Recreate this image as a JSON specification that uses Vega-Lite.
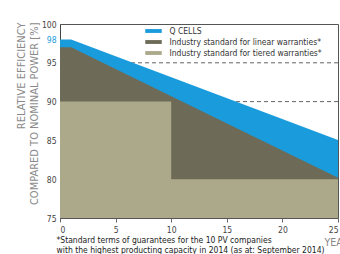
{
  "$schema": "https://vega.github.io/schema/vega-lite/v6.json",
  "width": 278,
  "height": 194,
  "autosize": {"type": "none"},
  "padding": {"left": 60, "top": 24, "right": 2, "bottom": 36},
  "background": "white",
  "config": {
    "font": "Liberation Sans Narrow, DejaVu Sans Condensed, Liberation Sans, sans-serif",
    "view": {"stroke": "#555", "strokeWidth": 1},
    "axisY": {"labelOverlap": false, "labelFlush": false, "labelBound": false}
  },
  "title": {
    "text": "YEARS",
    "orient": "bottom",
    "anchor": "end",
    "align": "left",
    "dx": -14,
    "dy": -20,
    "fontSize": 10.5,
    "fontWeight": "normal",
    "color": "#888"
  },
  "datasets": {
    "qcells": [
      {"year": 0, "eff": 98, "series": "Q CELLS"},
      {"year": 1, "eff": 98, "series": "Q CELLS"},
      {"year": 25, "eff": 85.04, "series": "Q CELLS"}
    ],
    "linear": [
      {"year": 0, "eff": 97, "series": "Industry standard for linear warranties*"},
      {"year": 1, "eff": 97, "series": "Industry standard for linear warranties*"},
      {"year": 25, "eff": 80.2, "series": "Industry standard for linear warranties*"}
    ],
    "tiered": [
      {"year": 0, "eff": 90, "series": "Industry standard for tiered warranties*"},
      {"year": 10, "eff": 80, "series": "Industry standard for tiered warranties*"},
      {"year": 25, "eff": 80, "series": "Industry standard for tiered warranties*"}
    ],
    "guides": [{"eff": 95}, {"eff": 90}]
  },
  "encoding": {
    "y": {
      "field": "eff", "type": "quantitative", "stack": null,
      "scale": {"domain": [75, 100], "nice": false, "zero": false},
      "axis": {
        "values": [75, 80, 85, 90, 95, 98, 100],
        "grid": false,
        "domainColor": "#444",
        "ticks": false,
        "labelPadding": 4,
        "labelFontSize": 8.5,
        "labelOverlap": false,
        "labelColor": {"condition": {"test": "datum.value == 98", "value": "#1a9bdc"}, "value": "#444"},
        "title": ["RELATIVE EFFICIENCY", "COMPARED TO NOMINAL POWER [%]"],
        "titleAngle": -90,
        "titleAlign": "right",
        "titleBaseline": "middle",
        "titleX": -39,
        "titleY": -2,
        "titleFontSize": 11,
        "titleFontWeight": "normal",
        "titleColor": "#8a8a8a",
        "titleLineHeight": 13
      }
    }
  },
  "layer": [
    {
      "data": {"name": "guides"},
      "mark": {"type": "rule", "color": "#666", "strokeWidth": 1, "strokeDash": [4, 3]},
      "encoding": {}
    },
    {
      "data": {"name": "qcells"},
      "mark": {"type": "area", "opacity": 1},
      "encoding": {
        "x": {"field": "year", "type": "quantitative"},
        "y2": {"datum": 75},
        "color": {"field": "series", "type": "nominal"}
      }
    },
    {
      "data": {"name": "linear"},
      "mark": {"type": "area", "opacity": 1},
      "encoding": {
        "x": {"field": "year", "type": "quantitative"},
        "y2": {"datum": 75},
        "color": {"field": "series", "type": "nominal"}
      }
    },
    {
      "data": {"name": "tiered"},
      "mark": {"type": "area", "opacity": 1, "interpolate": "step-after"},
      "encoding": {
        "x": {
          "field": "year", "type": "quantitative",
          "scale": {"domain": [0, 25], "nice": false},
          "axis": {
            "values": [0, 5, 10, 15, 20, 25],
            "domain": false,
            "grid": false,
            "tickSize": 4,
            "tickColor": "#666",
            "labelFontSize": 8.5,
            "labelColor": "#444",
            "labelPadding": 3,
            "title": ["*Standard terms of guarantees for the 10 PV companies", "with the highest producting capacity in 2014 (as at: September 2014)"],
            "titleAnchor": "start",
            "titleAlign": "left",
            "titleBaseline": "top",
            "titleX": -4,
            "titleY": 17,
            "titleFontSize": 8.5,
            "titleFontWeight": "normal",
            "titleColor": "#222",
            "titleLineHeight": 10
          }
        },
        "y2": {"datum": 75},
        "color": {
          "field": "series", "type": "nominal",
          "scale": {
            "domain": ["Q CELLS", "Industry standard for linear warranties*", "Industry standard for tiered warranties*"],
            "range": ["#1a9bdc", "#6d6b57", "#aca98b"]
          },
          "legend": {
            "title": null,
            "orient": "none",
            "legendX": 88,
            "legendY": 1.5,
            "symbolType": "M-1.5,-0.35H1.5V0.35H-1.5Z",
            "symbolSize": 121,
            "symbolStrokeWidth": 0,
            "symbolOpacity": 1,
            "labelOffset": 10.5,
            "labelFontSize": 8.5,
            "labelColor": "#333",
            "labelLimit": 300,
            "rowPadding": 1
          }
        }
      }
    }
  ]
}
